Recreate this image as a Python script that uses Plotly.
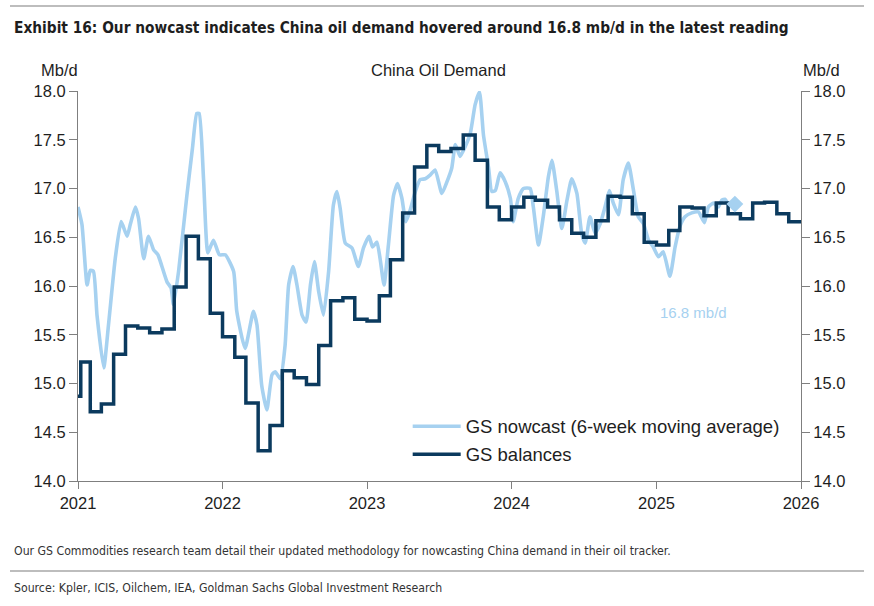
import plotly.graph_objects as go

# ---------------- data ----------------
nowcast_dates = [
    "2021-01-01", "2021-01-11", "2021-01-24", "2021-02-01", "2021-02-09", "2021-02-18", "2021-03-07",
    "2021-03-19", "2021-04-05", "2021-04-20", "2021-05-05", "2021-05-13", "2021-05-26", "2021-06-03",
    "2021-06-16", "2021-06-28", "2021-07-11", "2021-07-22", "2021-08-01", "2021-08-14", "2021-08-24",
    "2021-08-30", "2021-09-12", "2021-10-03", "2021-10-17", "2021-10-28", "2021-11-03", "2021-11-14",
    "2021-11-25", "2021-12-09", "2021-12-24",
    "2022-01-08", "2022-01-29", "2022-02-06", "2022-02-27", "2022-03-20", "2022-03-29", "2022-04-10",
    "2022-04-23", "2022-05-06", "2022-05-14", "2022-05-27", "2022-06-08", "2022-06-17", "2022-06-28",
    "2022-07-08", "2022-07-21", "2022-07-31", "2022-08-11", "2022-08-21", "2022-09-01", "2022-09-13",
    "2022-09-26", "2022-10-08", "2022-10-17", "2022-10-25", "2022-11-07", "2022-11-24", "2022-12-10",
    "2022-12-23",
    "2023-01-06", "2023-01-15", "2023-01-26", "2023-02-03", "2023-02-13", "2023-02-24", "2023-03-09",
    "2023-03-19", "2023-03-30", "2023-04-09", "2023-04-20", "2023-05-03", "2023-05-15", "2023-05-28",
    "2023-06-10", "2023-06-22", "2023-07-09", "2023-07-22", "2023-08-03", "2023-08-12", "2023-08-24",
    "2023-09-06", "2023-09-19", "2023-10-01", "2023-10-12", "2023-10-22", "2023-11-04", "2023-11-12",
    "2023-11-21", "2023-12-03", "2023-12-16", "2023-12-29",
    "2024-01-05", "2024-01-18", "2024-01-31", "2024-02-17", "2024-02-25", "2024-03-09", "2024-03-21",
    "2024-04-03", "2024-04-12", "2024-04-24", "2024-05-07", "2024-05-20", "2024-06-01", "2024-06-14",
    "2024-06-26", "2024-07-05", "2024-07-17", "2024-07-30", "2024-08-12", "2024-08-24", "2024-09-04",
    "2024-09-14", "2024-09-27", "2024-10-09", "2024-10-22", "2024-11-04", "2024-11-16", "2024-11-29",
    "2024-12-12", "2024-12-24",
    "2025-01-06", "2025-01-18", "2025-02-04", "2025-02-17", "2025-03-01", "2025-03-14", "2025-03-31",
    "2025-04-17", "2025-05-02", "2025-05-12", "2025-05-25", "2025-06-06", "2025-06-15", "2025-06-23",
    "2025-07-03", "2025-07-18",
]
nowcast_values = [
    16.81, 16.63, 16.01, 16.16, 16.15, 15.70, 15.16,
    15.60, 16.28, 16.66, 16.51, 16.63, 16.81, 16.69,
    16.28, 16.51, 16.37, 16.32, 16.20, 16.04, 15.98,
    15.81, 16.15, 16.93, 17.41, 17.77, 17.77, 17.10,
    16.34, 16.47, 16.32,
    16.32, 16.15, 15.74, 15.36, 15.74, 15.60, 14.98,
    14.73, 15.09, 15.12, 15.05, 15.39, 16.01, 16.20,
    16.01, 15.70, 15.63, 16.01, 16.25, 15.94, 15.70,
    16.15, 16.83, 16.97, 16.80, 16.44, 16.39, 16.20,
    16.39,
    16.51, 16.40, 16.45, 16.28, 16.01, 16.42, 16.93,
    17.05, 16.90, 16.66, 16.78, 16.97, 17.09, 17.10,
    17.14, 17.19, 16.95, 17.07, 17.21, 17.45, 17.33,
    17.43, 17.57, 17.86, 17.99, 17.55, 17.21, 16.97,
    16.98, 17.16, 17.07, 16.90,
    16.66, 16.90, 17.00, 17.00, 16.81, 16.42, 16.71,
    17.12, 17.29, 16.98, 16.59, 16.88, 17.10, 16.95,
    16.54, 16.44, 16.71, 16.54, 16.64, 16.81, 16.98,
    16.85, 16.73, 17.09, 17.26, 16.98, 16.71, 16.64,
    16.47, 16.40,
    16.30, 16.35, 16.10, 16.40, 16.61, 16.71, 16.75,
    16.76, 16.65, 16.81, 16.85, 16.81, 16.88, 16.89,
    16.83, 16.84,
]

balances_dates = [
    "2021-01-01", "2021-01-08", "2021-02-01", "2021-03-01", "2021-04-01", "2021-05-01", "2021-06-01",
    "2021-07-01", "2021-08-01", "2021-09-01", "2021-10-01", "2021-11-01", "2021-12-01",
    "2022-01-01", "2022-02-01", "2022-03-01", "2022-04-01", "2022-05-01", "2022-06-01",
    "2022-07-01", "2022-08-01", "2022-09-01", "2022-10-01", "2022-11-01", "2022-12-01",
    "2023-01-01", "2023-02-01", "2023-03-01", "2023-04-01", "2023-05-01", "2023-06-01",
    "2023-07-01", "2023-08-01", "2023-09-01", "2023-10-01", "2023-11-01", "2023-12-01",
    "2024-01-01", "2024-02-01", "2024-03-01", "2024-04-01", "2024-05-01", "2024-06-01",
    "2024-07-01", "2024-08-01", "2024-09-01", "2024-10-01", "2024-11-01", "2024-12-01",
    "2025-01-01", "2025-02-01", "2025-03-01", "2025-04-01", "2025-05-01", "2025-06-01",
    "2025-07-01", "2025-08-01", "2025-09-01", "2025-10-01", "2025-11-01", "2025-12-01",
    "2026-01-01",
]
balances_values = [
    14.87, 15.22, 14.71, 14.79, 15.30, 15.59, 15.57,
    15.52, 15.56, 15.99, 16.51, 16.28, 15.72,
    15.48, 15.27, 14.80, 14.31, 14.57, 15.13,
    15.06, 14.99, 15.39, 15.85, 15.88, 15.66,
    15.64, 15.90, 16.27, 16.75, 17.22, 17.44,
    17.38, 17.41, 17.55, 17.29, 16.81, 16.68,
    16.81, 16.91, 16.88, 16.81, 16.68, 16.54,
    16.50, 16.67, 16.92, 16.91, 16.74, 16.45,
    16.42, 16.57, 16.81, 16.80, 16.72, 16.85,
    16.74, 16.69, 16.85, 16.86, 16.74, 16.66,
    16.66,
]

y_ticks = [14.0, 14.5, 15.0, 15.5, 16.0, 16.5, 17.0, 17.5, 18.0]
x_tick_labels = ["2021", "2022", "2023", "2024", "2025", "2026"]

LIGHT = "#A6D1F0"
DARK = "#0B3A5E"
AXIS = "#7F7F7F"
TXT = "#1E1E1E"
SANS = "Liberation Sans, Arial, sans-serif"
NARROW = "Liberation Sans Narrow, DejaVu Sans Condensed, Arial Narrow, sans-serif"

fig = go.Figure()
fig.add_trace(go.Scatter(
    x=nowcast_dates, y=nowcast_values, mode="lines",
    name="GS nowcast (6-week moving average)",
    line=dict(color=LIGHT, width=3.6, shape="spline", smoothing=0.5),
    legendgroup="a", hoverinfo="skip",
))
fig.add_trace(go.Scatter(
    x=balances_dates, y=balances_values, mode="lines",
    name="GS balances",
    line=dict(color=DARK, width=3.5, shape="hv"),
    legendgroup="b", yaxis="y2", hoverinfo="skip",
))
fig.add_trace(go.Scatter(
    x=[nowcast_dates[-1]], y=[nowcast_values[-1]], mode="markers",
    marker=dict(symbol="diamond", size=13, color=LIGHT),
    showlegend=False, yaxis="y2", hoverinfo="skip",
))

axis_common = dict(
    range=[14, 18], tickvals=y_ticks, tickformat=".1f",
    showgrid=False, zeroline=False, showline=True, linecolor=AXIS, linewidth=1,
    ticks="outside", ticklen=8, tickcolor=AXIS, tickwidth=1,
    tickfont=dict(family=SANS, size=16.5, color=TXT), fixedrange=True,
)

fig.update_layout(
    width=874, height=606,
    margin=dict(l=78, r=73, t=91, b=125),
    paper_bgcolor="white", plot_bgcolor="white",
    font=dict(family=SANS, color=TXT),
    xaxis=dict(
        type="date", range=["2021-01-01", "2026-01-01"],
        tickvals=[f"{y}-01-01" for y in x_tick_labels], ticktext=x_tick_labels,
        showgrid=False, zeroline=False, showline=True, linecolor=AXIS, linewidth=1,
        ticks="outside", ticklen=7, tickcolor=AXIS,
        tickfont=dict(family=SANS, size=16.5, color=TXT), fixedrange=True,
    ),
    yaxis=dict(side="left", **axis_common),
    yaxis2=dict(side="right", overlaying="y", anchor="x", **axis_common),
    showlegend=True,
    legend=dict(
        x=0.456, y=0.188, xanchor="left", yanchor="top",
        font=dict(family=SANS, size=18.5, color=TXT),
        bgcolor="rgba(0,0,0,0)", traceorder="grouped", tracegroupgap=1,
        itemwidth=48,
    ),
)

def px_x(X):
    return (X - 78) / 723

def px_y(Y):
    return (481 - Y) / 390

ann = [
    dict(text="<b>Exhibit 16: Our nowcast indicates China oil demand hovered around 16.8 mb/d in the latest reading</b>",
         x=px_x(12), y=px_y(28), xanchor="left", yanchor="middle",
         font=dict(family=NARROW, size=15.3, color=TXT)),
    dict(text="Mb/d", x=px_x(59), y=px_y(70), xanchor="center", yanchor="middle",
         font=dict(family=SANS, size=16.5, color=TXT)),
    dict(text="China Oil Demand", x=px_x(438), y=px_y(70), xanchor="center", yanchor="middle",
         font=dict(family=SANS, size=16.5, color=TXT)),
    dict(text="Mb/d", x=px_x(822), y=px_y(70), xanchor="center", yanchor="middle",
         font=dict(family=SANS, size=16.5, color=TXT)),
    dict(text="Our GS Commodities research team detail their updated methodology for nowcasting China demand in their oil tracker.",
         x=px_x(12), y=px_y(551), xanchor="left", yanchor="middle",
         font=dict(family=NARROW, size=12.2, color="#333333")),
    dict(text="Source: Kpler, ICIS, Oilchem, IEA, Goldman Sachs Global Investment Research",
         x=px_x(12), y=px_y(588), xanchor="left", yanchor="middle",
         font=dict(family=NARROW, size=12.2, color="#333333")),
]
for a in ann:
    a.update(xref="paper", yref="paper", showarrow=False)
    fig.add_annotation(**a)

fig.add_annotation(
    text="16.8 mb/d", x="2025-04-04", y=15.73, xref="x", yref="y",
    showarrow=False, font=dict(family=SANS, size=15, color=LIGHT),
)

for Y in (6, 571):
    fig.add_shape(type="line", xref="paper", yref="paper",
                  x0=px_x(10), x1=px_x(864), y0=px_y(Y), y1=px_y(Y),
                  line=dict(color="#BDBDBD", width=2))

fig.write_html(
    "out.html",
    config={"displayModeBar": False, "staticPlot": True},
    post_script="document.body.style.margin='0px';",
)
